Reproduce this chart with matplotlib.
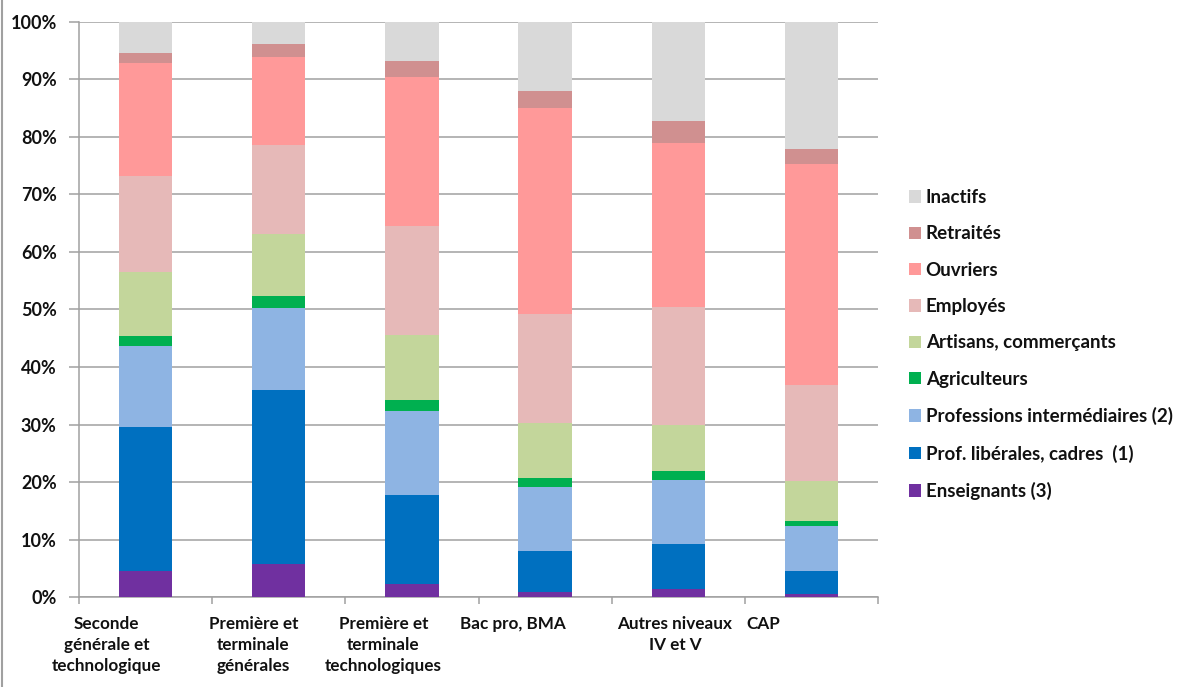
import matplotlib.pyplot as plt
from matplotlib.lines import Line2D
import numpy as np

plt.rcParams['font.family'] = ['Lato', 'DejaVu Sans']
plt.rcParams['font.weight'] = 'bold'

categories = ['Seconde\ngénérale et\ntechnologique',
              'Première et\nterminale\ngénérales',
              'Première et\nterminale\ntechnologiques',
              'Bac pro, BMA',
              'Autres niveaux\nIV et V',
              'CAP']

# parts in % (bottom to top)
enseignants = [4.6, 5.8, 2.3, 1.0, 1.4, 0.6]
cadres = [24.9, 30.2, 15.5, 7.0, 7.9, 4.0]
prof_inter = [14.1, 14.3, 14.6, 11.2, 11.1, 7.7]
agriculteurs = [1.8, 2.0, 1.8, 1.5, 1.6, 1.0]
artisans = [11.2, 10.9, 11.4, 9.5, 7.9, 6.9]
employes = [16.6, 15.3, 18.9, 19.1, 20.5, 16.7]
ouvriers = [19.7, 15.4, 25.9, 35.7, 28.6, 38.3]
retraites = [1.7, 2.2, 2.7, 3.0, 3.7, 2.7]
inactifs = [5.4, 3.9, 6.9, 12.0, 17.3, 22.1]

series = [
    ('Enseignants (3)', enseignants, '#7030A0'),
    ('Prof. libérales, cadres  (1)', cadres, '#0070C0'),
    ('Professions intermédiaires (2)', prof_inter, '#8EB4E3'),
    ('Agriculteurs', agriculteurs, '#00B050'),
    ('Artisans, commerçants', artisans, '#C3D69B'),
    ('Employés', employes, '#E6B9B8'),
    ('Ouvriers', ouvriers, '#FF9999'),
    ('Retraités', retraites, '#D09090'),
    ('Inactifs', inactifs, '#D9D9D9'),
]

# excel put the wrapped labels a bit left of the bars
label_shift = [-0.293, -0.192, -0.214, -0.241, -0.024, -0.362]

fig = plt.figure(figsize=(11.92, 6.87), dpi=100)
ax = fig.add_axes([0.0663, 0.1306, 0.6703, 0.8378])

x = np.arange(len(categories))
bottom = np.zeros(len(categories))
for name, vals, col in series:
    ax.bar(x, vals, width=0.4, bottom=bottom, color=col, label=name, linewidth=0, zorder=3)
    bottom += np.array(vals)

ax.set_xlim(-0.5, len(categories) - 0.5)
ax.set_ylim(0, 100)
ax.set_yticks(np.arange(0, 101, 10))
ax.set_yticklabels([f'{v}%' for v in range(0, 101, 10)], fontsize=13, color='#111111')
ax.grid(axis='y', color='#a0a0a0', linewidth=1.1, zorder=0)
ax.set_xticks(np.arange(-0.5, len(categories)))
ax.set_xticklabels([])
ax.tick_params(axis='x', direction='out', length=5, color='#a0a0a0', width=1.1)
ax.tick_params(axis='y', direction='out', length=7, color='#a0a0a0', width=1.1, pad=9)
for s in ['top', 'right']:
    ax.spines[s].set_visible(False)
for s in ['left', 'bottom']:
    ax.spines[s].set_color('#a0a0a0')
    ax.spines[s].set_linewidth(1.1)

for i, lab in enumerate(categories):
    ax.text(i + label_shift[i], -0.033, lab, transform=ax.get_xaxis_transform(),
            ha='center', va='top', fontsize=12.3, color='#111111', linespacing=1.37)

h, l = ax.get_legend_handles_labels()
fig.legend(h[::-1], l[::-1], loc='center left', bbox_to_anchor=(0.7545, 0.4985),
           frameon=False, fontsize=13.5, handlelength=0.65, handleheight=0.65,
           handletextpad=0.25, labelspacing=1.03, borderpad=0, labelcolor='#111111')

fig.add_artist(Line2D([0.002, 0.002], [0, 1], color='#a0a0a0', linewidth=1.5))

fig.savefig('out.png', dpi=100)
